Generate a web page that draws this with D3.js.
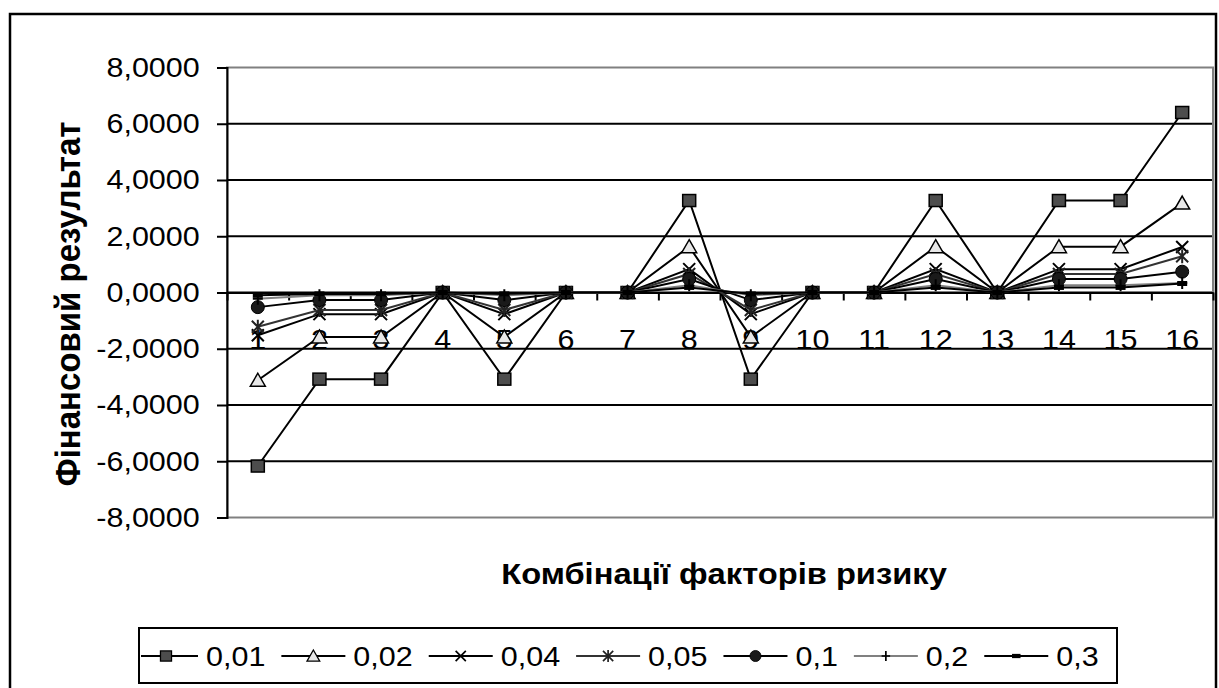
<!DOCTYPE html>
<html>
<head>
<meta charset="utf-8">
<script src="https://cdn.jsdelivr.net/npm/d3@7.9.0/dist/d3.min.js"></script>
<style>
  body { margin: 0; background: #fff; }
  svg { display: block; }
  text { font-family: "Liberation Sans", Arial, sans-serif; fill: #000; }
</style>
</head>
<body>
<svg id="chart"></svg>
<script>
// categories on x axis (combinations of risk factors)
const categories = ['1', '2', '3', '4', '5', '6', '7', '8', '9', '10', '11', '12', '13', '14', '15', '16'];

// one array per probability level
const p001 = [-6.17, -3.08, -3.08, 0, -3.08, 0, 0, 3.27, -3.08, 0, 0, 3.27, 0, 3.27, 3.27, 6.40];
const p002 = [-3.12, -1.58, -1.58, 0, -1.58, 0, 0, 1.63, -1.58, 0, 0, 1.63, 0, 1.63, 1.63, 3.18];
const p004 = [-1.52, -0.77, -0.77, 0, -0.77, 0, 0, 0.83, -0.77, 0, 0, 0.83, 0, 0.83, 0.83, 1.62];
const p005 = [-1.22, -0.62, -0.62, 0, -0.62, 0, 0, 0.66, -0.62, 0, 0, 0.66, 0, 0.66, 0.66, 1.29];
const p01 = [-0.52, -0.27, -0.27, 0, -0.27, 0, 0, 0.48, -0.27, 0, 0, 0.48, 0, 0.48, 0.48, 0.74];
const p02 = [-0.22, -0.10, -0.10, 0, -0.10, 0, 0, 0.26, -0.10, 0, 0, 0.26, 0, 0.26, 0.26, 0.34];
const p03 = [-0.10, -0.05, -0.05, 0, -0.05, 0, 0, 0.18, -0.05, 0, 0, 0.18, 0, 0.18, 0.18, 0.32];

const seriesNames = ['0,01', '0,02', '0,04', '0,05', '0,1', '0,2', '0,3'];
const seriesValues = [p001, p002, p004, p005, p01, p02, p03];

const yTicks = [-8, -6, -4, -2, 0, 2, 4, 6, 8];

const yTitle = 'Фінансовий результат';
const xTitle = 'Комбінації факторів ризику';

const width = 1219;
const height = 688;
const plot = { left: 227, right: 1213, top: 67.5, bottom: 517.5 };
const stretch = 'scale(1.09,1)';  // text in the picture is a bit wider than normal

// marker look for each series
const styles = [
    { kind: 'square', line: '#000', fill: '#4d4d4d' },
    { kind: 'triangle', line: '#000', fill: '#e8e8e8' },
    { kind: 'x', line: '#000', fill: 'none' },
    { kind: 'asterisk', line: '#333', fill: 'none' },
    { kind: 'circle', line: '#000', fill: '#1a1a1a' },
    { kind: 'plus', line: '#808080', fill: 'none' },
    { kind: 'dash', line: '#000', fill: '#000' }
];

const svg = d3.select('#chart')
    .attr('width', width)
    .attr('height', height);

// outer chart border
svg.append('rect')
    .attr('x', 10).attr('y', 14)
    .attr('width', 1206).attr('height', 700)
    .attr('fill', '#fff')
    .attr('stroke', '#000')
    .attr('stroke-width', 2.5);

const xScale = d3.scaleBand()
    .domain(categories)
    .range([plot.left, plot.right]);

const yScale = d3.scaleLinear()
    .domain([-8, 8])
    .range([plot.bottom, plot.top]);

const cx = d => xScale(d) + xScale.bandwidth() / 2;

const fmt = d3.formatLocale({ decimal: ',', thousands: ' ', grouping: [3], currency: ['', ''], minus: '-' }).format('.4f');

// gridlines
svg.append('g')
    .selectAll('line')
    .data(yTicks.filter(d => d > -8 && d < 8))
    .join('line')
    .attr('x1', plot.left).attr('x2', plot.right)
    .attr('y1', d => yScale(d)).attr('y2', d => yScale(d))
    .attr('stroke', '#000')
    .attr('stroke-width', 2);

// plot area border (grey)
svg.append('rect')
    .attr('x', plot.left).attr('y', plot.top)
    .attr('width', plot.right - plot.left)
    .attr('height', plot.bottom - plot.top)
    .attr('fill', 'none')
    .attr('stroke', '#808080')
    .attr('stroke-width', 2);

// y axis
const yAxis = svg.append('g')
    .attr('transform', `translate(${plot.left}, 0)`)
    .call(d3.axisLeft(yScale).tickValues(yTicks).tickSize(10).tickPadding(15).tickFormat(fmt));
yAxis.selectAll('path, line').attr('stroke', '#000').attr('stroke-width', 2);
yAxis.selectAll('text')
    .attr('font-size', 28)
    .attr('transform', stretch);

// x axis line with ticks on the category boundaries
const boundary = d3.scaleLinear().domain([0, categories.length]).range([plot.left, plot.right]);
const xAxis = svg.append('g')
    .attr('transform', `translate(0, ${yScale(0)})`)
    .call(d3.axisBottom(boundary).tickValues(d3.range(0, categories.length + 1)).tickSize(8).tickSizeOuter(0).tickFormat(''));
xAxis.selectAll('path, line').attr('stroke', '#000').attr('stroke-width', 2);

// category labels
const xLabels = svg.append('g')
    .attr('transform', `translate(0, ${yScale(0)})`)
    .call(d3.axisBottom(xScale).tickSize(0).tickPadding(37));
xLabels.select('.domain').remove();
xLabels.selectAll('text')
    .attr('font-size', 28)
    .attr('transform', stretch);

// axis titles
svg.append('text')
    .attr('transform', `translate(80, 304) ${stretch} rotate(-90)`)
    .attr('text-anchor', 'middle')
    .attr('font-size', 33)
    .attr('font-weight', 'bold')
    .text(yTitle);

svg.append('text')
    .attr('transform', `translate(724, 584) ${stretch}`)
    .attr('text-anchor', 'middle')
    .attr('font-size', 30)
    .attr('font-weight', 'bold')
    .text(xTitle);

// draws one marker into a group centred on 0,0
function drawMarker(g, style) {
    const k = style.kind;
    if (k === 'square') {
        g.append('rect').attr('x', -6.5).attr('y', -6).attr('width', 13).attr('height', 12)
            .attr('fill', style.fill).attr('stroke', '#000').attr('stroke-width', 1.5);
    } else if (k === 'triangle') {
        g.append('path').attr('d', 'M0,-7L7.5,6L-7.5,6Z')
            .attr('fill', style.fill).attr('stroke', '#000').attr('stroke-width', 1.5);
    } else if (k === 'x') {
        g.append('path').attr('d', 'M-6,-6L6,6M-6,6L6,-6')
            .attr('stroke', '#000').attr('stroke-width', 2);
    } else if (k === 'asterisk') {
        g.append('path').attr('d', 'M-6,-6L6,6M-6,6L6,-6M0,-7L0,7')
            .attr('stroke', '#222').attr('stroke-width', 2);
    } else if (k === 'circle') {
        g.append('circle').attr('r', 6.5)
            .attr('fill', style.fill).attr('stroke', '#000').attr('stroke-width', 1);
    } else if (k === 'plus') {
        g.append('path').attr('d', 'M-5,0L5,0M0,-6L0,6')
            .attr('stroke', '#000').attr('stroke-width', 2);
    } else if (k === 'dash') {
        g.append('rect').attr('x', -5).attr('y', -2.5).attr('width', 10).attr('height', 5)
            .attr('fill', '#000');
    }
}

const line = d3.line()
    .x((d, i) => cx(categories[i]))
    .y(d => yScale(d));

// series lines and markers, first series at the bottom
seriesValues.forEach((values, s) => {
    const style = styles[s];
    const g = svg.append('g');
    g.append('path')
        .datum(values)
        .attr('d', line)
        .attr('fill', 'none')
        .attr('stroke', style.line)
        .attr('stroke-width', 2);
    g.selectAll('g')
        .data(values)
        .join('g')
        .attr('transform', (d, i) => `translate(${cx(categories[i])}, ${yScale(d)})`)
        .each(function() { drawMarker(d3.select(this), style); });
});

// legend
svg.append('rect')
    .attr('x', 139).attr('y', 628)
    .attr('width', 978).attr('height', 55)
    .attr('fill', '#fff')
    .attr('stroke', '#000')
    .attr('stroke-width', 2);

let lx = 134;
const ly = 656;
seriesNames.forEach((name, s) => {
    const style = styles[s];
    const g = svg.append('g');
    g.append('line')
        .attr('x1', Math.max(lx, 141)).attr('x2', lx + 64)
        .attr('y1', ly).attr('y2', ly)
        .attr('stroke', style.line)
        .attr('stroke-width', 2);
    const m = g.append('g').attr('transform', `translate(${lx + 32}, ${ly}) scale(0.85)`);
    drawMarker(m, style);
    const t = g.append('text')
        .attr('transform', `translate(${lx + 72}, 666) ${stretch}`)
        .attr('font-size', 28)
        .text(name);
    lx += 72 + t.node().getComputedTextLength() * 1.09 + 16;
});
</script>
</body>
</html>
